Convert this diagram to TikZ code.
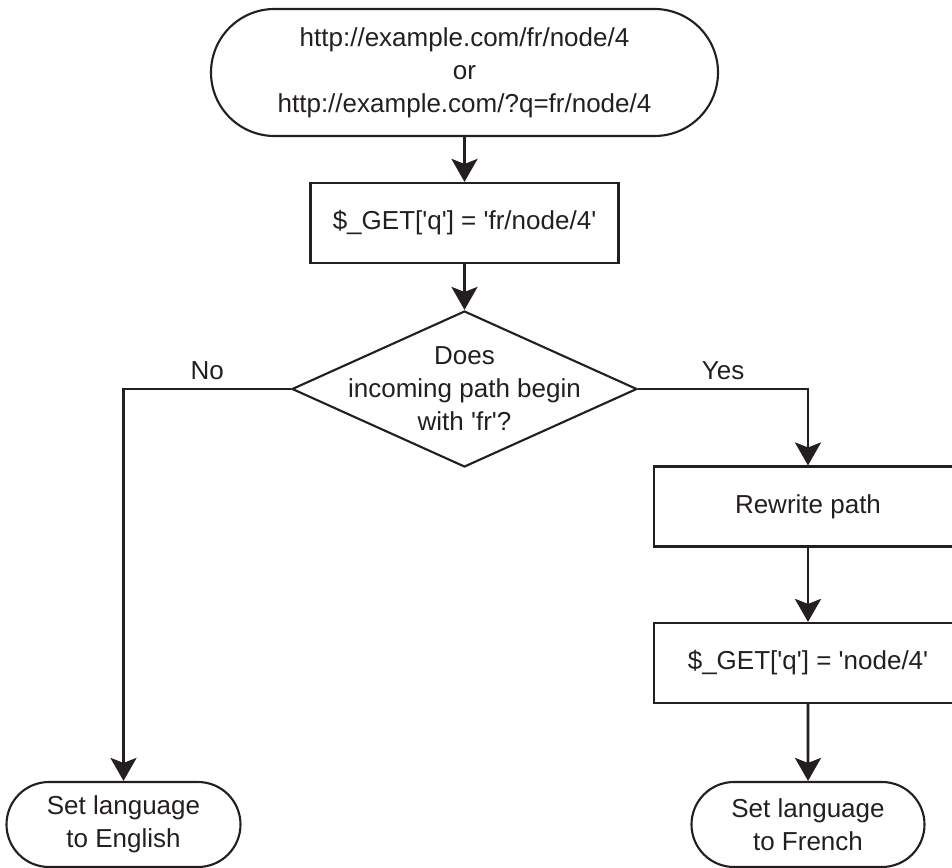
\documentclass[tikz,border=0pt]{standalone}
\usepackage{fontspec}
\setmainfont{Liberation Sans}[Ligatures=TeXOff]
\usetikzlibrary{shapes.geometric, shapes.misc, arrows.meta, positioning}
\definecolor{FlowInk}{HTML}{231F20}

\begin{document}
\begin{tikzpicture}[
  font=\fontsize{14.8}{18.8}\selectfont, text=FlowInk,
  terminal/.style={rounded rectangle, draw=FlowInk, line width=1.2pt, align=center, inner sep=0pt},
  process/.style={rectangle, draw=FlowInk, line width=1.2pt, minimum width=6.16cm, minimum height=1.6cm, align=center},
  decision/.style={diamond, draw=FlowInk, line width=1.2pt, aspect=2.2, minimum width=6.9cm, minimum height=3.12cm, inner xsep=0pt, inner ysep=-0.5cm, align=center},
  flow/.style={draw=FlowInk, line width=1.6pt, -{Stealth[length=0.46cm, width=0.52cm, inset=0.1cm]}},
  branch/.style={above=1pt},
]
% Frame
\useasboundingbox (0,0) rectangle (19.04,-17.36);
% Request
\node[terminal, minimum width=10.14cm, minimum height=2.54cm] (url) at (9.29,-1.45)
  {http://example.com/fr/node/4\\or\\http://example.com/?q=fr/node/4};
\node[process] (getfr) at (9.29,-4.46) {\$\_GET['q'] = 'fr/node/4'};
% Decision
\node[decision] (check) at (9.29,-7.78) {Does\\incoming path begin\\with 'fr'?};
% Yes branch
\node[process] (rewrite) at (16.16,-10.13) {Rewrite path};
\node[process] (getnode) at (16.16,-13.26) {\$\_GET['q'] = 'node/4'};
\node[terminal, minimum width=4.66cm, minimum height=1.7cm] (french) at (16.16,-16.49)
  {Set language\\to French};
% No branch
\node[terminal, minimum width=4.68cm, minimum height=1.7cm] (english) at (2.47,-16.49)
  {Set language\\to English};
% Connectors
\draw[flow] (url) -- (getfr);
\draw[flow] (getfr) -- (check);
\draw[flow] (check.west) -| node[branch, pos=0.25] {No} (english.north);
\draw[flow] (check.east) -| node[branch, pos=0.25] {Yes} (rewrite.north);
\draw[flow] (rewrite) -- (getnode);
\draw[flow] (getnode) -- (french);
\end{tikzpicture}
\end{document}
